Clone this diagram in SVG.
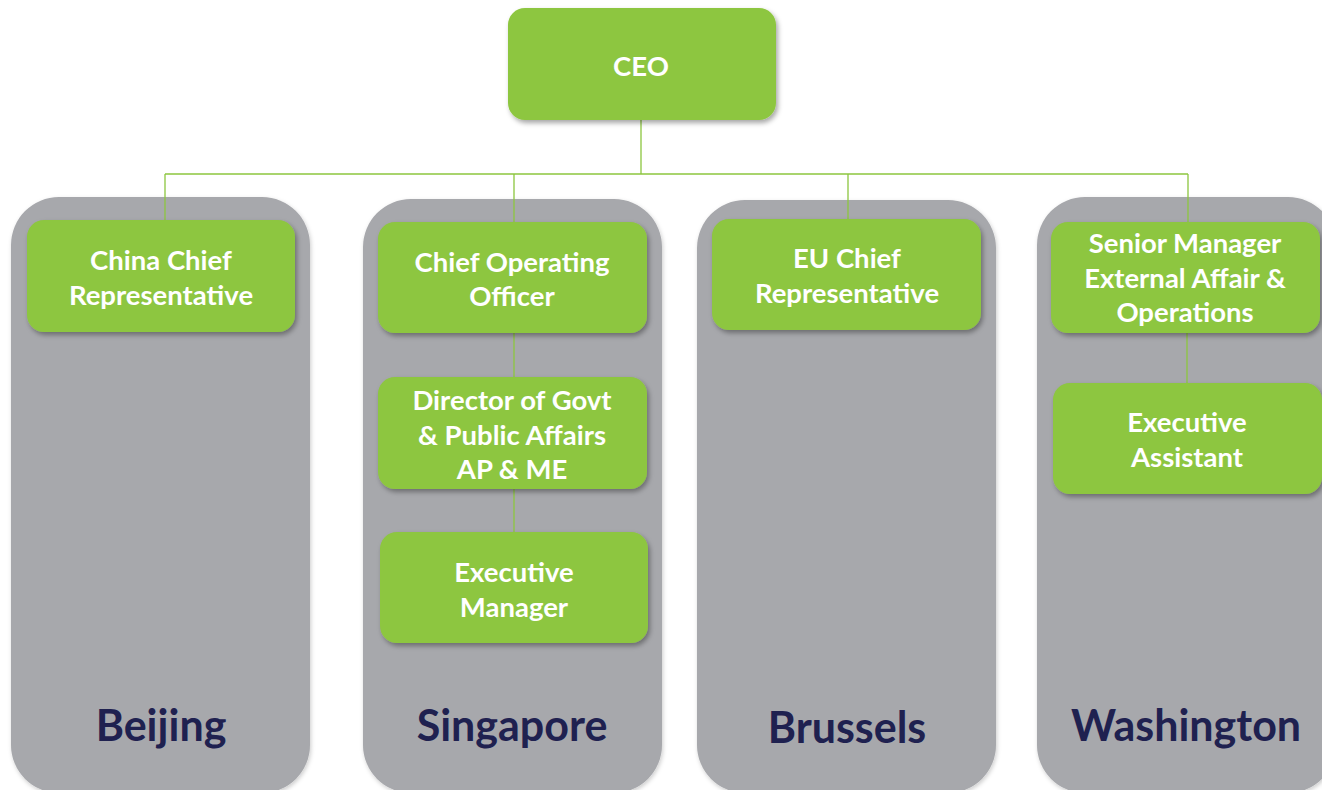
<svg xmlns="http://www.w3.org/2000/svg" width="1322" height="790" viewBox="0 0 1322 790">
<defs>
<filter id="sh" x="-10%" y="-10%" width="125%" height="130%">
<feDropShadow dx="2" dy="3" stdDeviation="2.5" flood-color="#000" flood-opacity="0.35"/>
</filter>
<filter id="shc" x="-10%" y="-5%" width="125%" height="115%">
<feDropShadow dx="1" dy="2" stdDeviation="2" flood-color="#000" flood-opacity="0.2"/>
</filter>
</defs>
<style>
.col{fill:#A7A8AC;}
.box{fill:#8DC63F;}
.t{font-family:Lato,"Open Sans","Liberation Sans",sans-serif;font-weight:bold;font-size:27.5px;fill:#fff;text-anchor:middle;}
.lbl{font-family:Lato,"Open Sans","Liberation Sans",sans-serif;font-weight:bold;font-size:43px;fill:#1F2150;text-anchor:middle;}
.ln{stroke:#8DC63F;stroke-width:1.3;fill:none;}
</style>
<rect width="1322" height="790" fill="#fff"/>
<g id="columns">
<g id="col-beijing"><rect class="col" x="11" y="197" width="299" height="596" rx="48" filter="url(#shc)"/><text class="lbl" x="161" y="741">Beijing</text></g>
<g id="col-singapore"><rect class="col" x="363" y="199" width="299" height="594" rx="48" filter="url(#shc)"/><text class="lbl" x="512" y="741">Singapore</text></g>
<g id="col-brussels"><rect class="col" x="697" y="200" width="299" height="593" rx="48" filter="url(#shc)"/><text class="lbl" x="847" y="743">Brussels</text></g>
<g id="col-washington"><rect class="col" x="1037" y="197" width="299" height="596" rx="48" filter="url(#shc)"/><text class="lbl" x="1186" y="741">Washington</text></g>
</g>
<g id="connectors">
<path class="ln" d="M641 120 V174 M165 174 H1188 M165 174 V220 M514 174 V222 M848 174 V219 M1188 174 V222"/>
<path class="ln" d="M514 333 V377 M514 489 V532 M1187 333 V383"/>
</g>
<g id="ceo"><rect class="box" x="508" y="8" width="268" height="112" rx="17" filter="url(#sh)"/><text class="t" x="641" y="76">CEO</text></g>
<g id="china-chief"><rect class="box" x="27" y="220" width="268" height="112" rx="17" filter="url(#sh)"/><text class="t" x="161" y="270">China Chief</text><text class="t" x="161" y="305">Representative</text></g>
<g id="coo"><rect class="box" x="378" y="222" width="269" height="111" rx="17" filter="url(#sh)"/><text class="t" x="512" y="272">Chief Operating</text><text class="t" x="512" y="306">Officer</text></g>
<g id="director"><rect class="box" x="378" y="377" width="269" height="112" rx="17" filter="url(#sh)"/><text class="t" x="512" y="410">Director of Govt</text><text class="t" x="512" y="445">&amp; Public Affairs</text><text class="t" x="512" y="479">AP &amp; ME</text></g>
<g id="exec-manager"><rect class="box" x="380" y="532" width="268" height="111" rx="17" filter="url(#sh)"/><text class="t" x="514" y="582">Executive</text><text class="t" x="514" y="617">Manager</text></g>
<g id="eu-chief"><rect class="box" x="712" y="219" width="269" height="111" rx="17" filter="url(#sh)"/><text class="t" x="847" y="268">EU Chief</text><text class="t" x="847" y="303">Representative</text></g>
<g id="senior-manager"><rect class="box" x="1051" y="222" width="269" height="111" rx="17" filter="url(#sh)"/><text class="t" x="1185" y="253">Senior Manager</text><text class="t" x="1185" y="288">External Affair &amp;</text><text class="t" x="1185" y="322">Operations</text></g>
<g id="exec-assistant"><rect class="box" x="1053" y="383" width="269" height="111" rx="17" filter="url(#sh)"/><text class="t" x="1187" y="432">Executive</text><text class="t" x="1187" y="467">Assistant</text></g>
</svg>
